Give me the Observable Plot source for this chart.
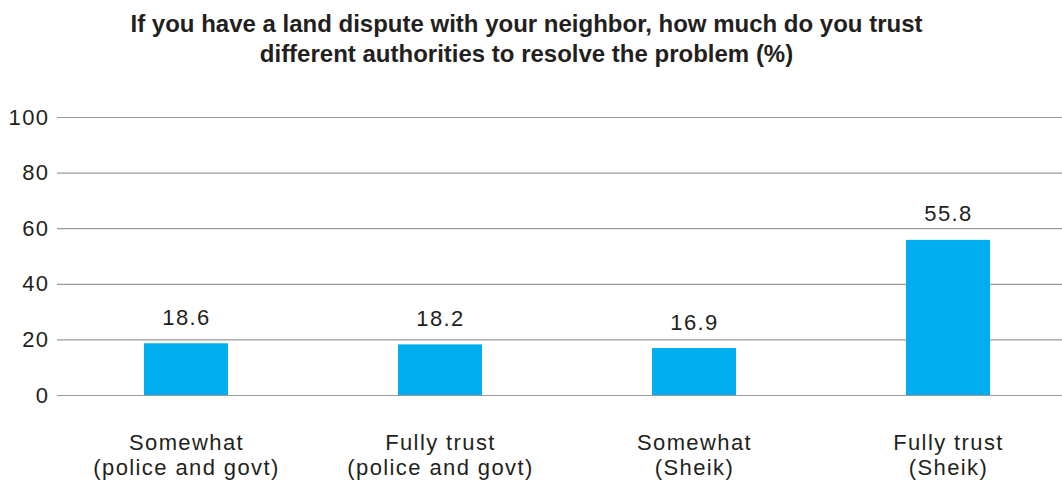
<!DOCTYPE html>
<html>
<head>
<meta charset="utf-8">
<script src="https://cdn.jsdelivr.net/npm/d3@7"></script>
<script src="https://cdn.jsdelivr.net/npm/@observablehq/plot@0.6"></script>
<style>
  html, body { margin: 0; padding: 0; background: #fff; overflow: hidden; }
  #title {
    width: 1053px; height: 80px; box-sizing: border-box; padding-top: 9px;
    text-align: center; font-family: "Liberation Sans", Arial, sans-serif;
    font-weight: bold; font-size: 24px; line-height: 30px; color: #231f20;
  }
  #chart svg { display: block; }
</style>
</head>
<body>
<div id="title">If you have a land dispute with your neighbor, how much do you trust<br>different authorities to resolve the problem (%)</div>
<div id="chart"></div>
<script>
const categories = [
  "Somewhat\n(police and govt)",
  "Fully trust\n(police and govt)",
  "Somewhat\n(Sheik)",
  "Fully trust\n(Sheik)"
];
const values = [18.6, 18.2, 16.9, 55.8];
const yTicks = [0, 20, 40, 60, 80, 100];

const data = categories.map((c, i) => ({category: c, value: values[i]}));

const font = "'Liberation Sans', Arial, sans-serif";
const plot = Plot.plot({
  width: 1062,
  height: 420,
  marginTop: 37,
  marginBottom: 105,
  marginLeft: 57,
  marginRight: 0,
  style: {fontFamily: font, fontSize: "22px", color: "#231f20", letterSpacing: "1.4px", overflow: "visible"},
  x: {domain: categories, range: [57, 1076], paddingInner: 0.67, paddingOuter: 0.335, label: null},
  y: {domain: [0, 100], label: null},
  marks: [
    Plot.ruleY(yTicks, {stroke: "#9a9a9a", strokeWidth: 1.2}),
    Plot.barY(data, {x: "category", y: "value", fill: "#00aeef"}),
    Plot.text(data, {x: "category", y: "value", text: d => d.value.toFixed(1), dy: -26, lineAnchor: "middle", fontSize: 22, fill: "#231f20"}),
    Plot.axisY(yTicks, {tickSize: 0, tickPadding: 8, fontSize: 22, fill: "#231f20", label: null}),
    Plot.axisX({tickSize: 0, tickPadding: 36, fontSize: 22, lineHeight: 1.16, fill: "#231f20", label: null})
  ]
});
document.getElementById("chart").appendChild(plot);
</script>
</body>
</html>
